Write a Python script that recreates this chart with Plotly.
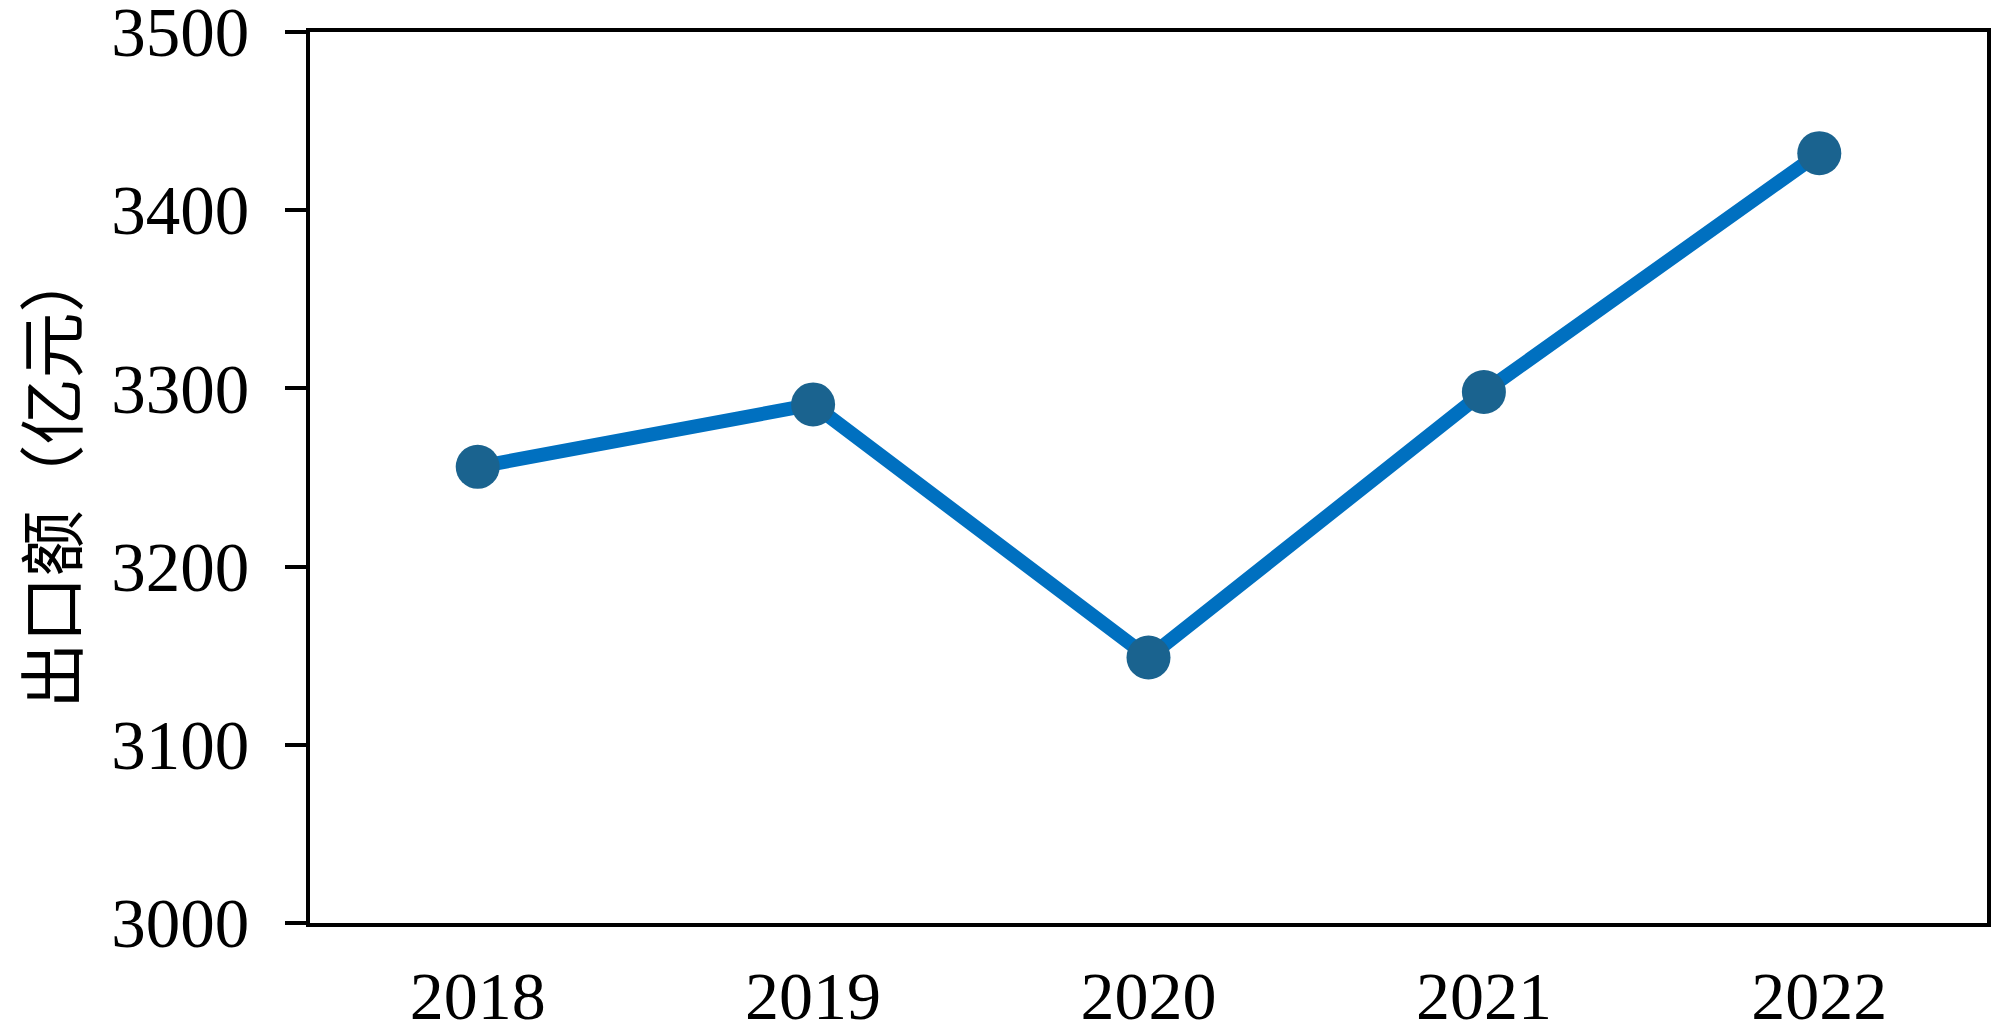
import plotly.graph_objects as go

years = ["2018", "2019", "2020", "2021", "2022"]
export_values = [3256, 3291, 3149, 3298, 3432]
y_ticks = [3000, 3100, 3200, 3300, 3400, 3500]
y_title = "出口额（亿元）"

FONT = "'Liberation Serif', 'Times New Roman', 'Noto Sans CJK SC', serif"

fig = go.Figure()
fig.add_trace(go.Scatter(
    x=years, y=export_values, mode="lines+markers",
    line=dict(color="#0070C0", width=14),
    marker=dict(color="#1A638F", size=44),
    showlegend=False, cliponaxis=False,
))

fig.update_layout(
    width=2000, height=1035,
    margin=dict(l=310, r=13, t=32, b=112),
    paper_bgcolor="white", plot_bgcolor="white",
    font=dict(family=FONT, size=68, color="black"),
)
fig.update_xaxes(
    type="category", range=[-0.5, 4.5], automargin=False,
    showline=True, linecolor="black", linewidth=4, mirror=True,
    ticks="", showgrid=False, zeroline=False,
    tickfont=dict(family=FONT, size=68, color="black"),
    ticklabelstandoff=10, ticklabeloverflow="allow",
)
fig.update_yaxes(
    range=[3000, 3500], tickvals=y_ticks, automargin=False,
    showline=True, linecolor="black", linewidth=4, mirror=True,
    ticks="outside", ticklen=21, tickwidth=4, tickcolor="black",
    showgrid=False, zeroline=False,
    tickfont=dict(family=FONT, size=69, color="black"),
    ticklabelstandoff=22, ticklabeloverflow="allow",
    title=dict(text=y_title, font=dict(family="'Noto Sans CJK SC'", size=66, color="black"), standoff=32),
)

fig.write_html(
    "out.html",
    config={"displayModeBar": False},
    post_script="document.body.style.margin='0px';document.body.style.overflow='hidden';",
)
